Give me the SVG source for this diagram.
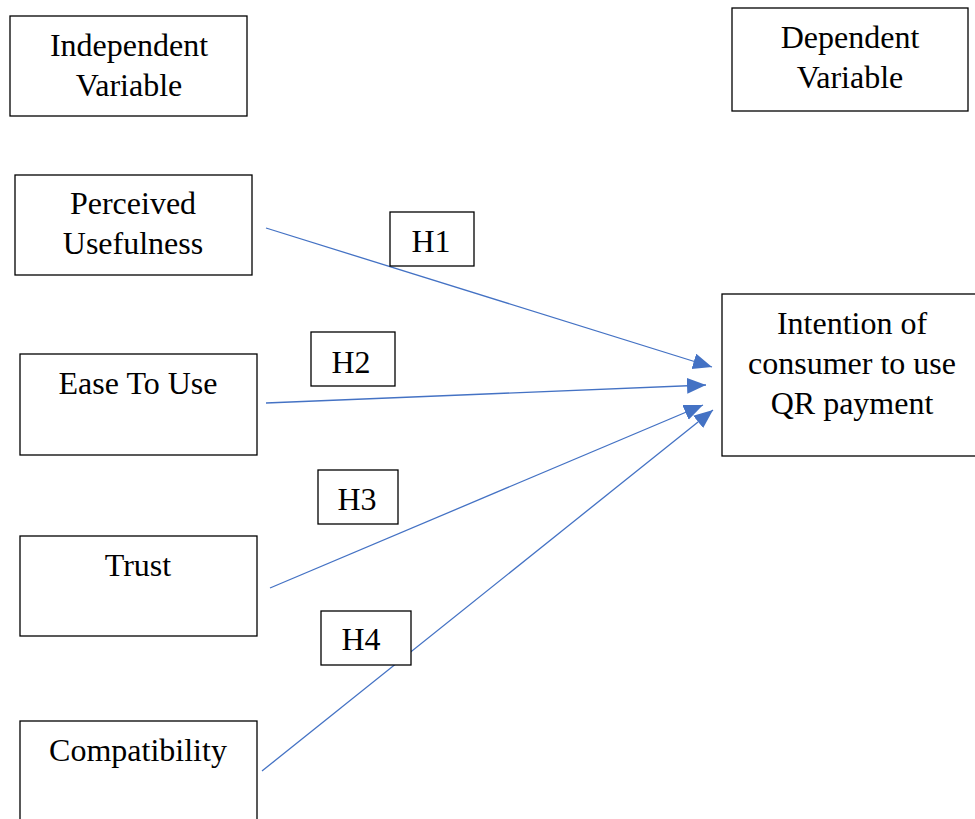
<svg xmlns="http://www.w3.org/2000/svg" width="975" height="819" viewBox="0 0 975 819">
<style>
.box{fill:#fff;stroke:#000;stroke-width:1.3}
.t{font-family:"Liberation Serif","Times New Roman",serif;font-size:32px;fill:#000;text-anchor:middle}
.c{stroke:#4472C4;stroke-width:1.3;fill:none}
</style>
<defs>
<marker id="ah" markerUnits="userSpaceOnUse" markerWidth="22" markerHeight="18" refX="19" refY="8" orient="auto">
<path d="M0,0 L19,8 L0,16 z" fill="#4472C4"/>
</marker>
</defs>
<rect width="975" height="819" fill="#fff"/>
<g id="independent">
<rect class="box" x="10" y="16" width="237" height="100"/>
<text class="t" x="129" y="56">Independent</text>
<text class="t" x="129" y="96">Variable</text>
</g>
<g id="dependent">
<rect class="box" x="732" y="8" width="236" height="103"/>
<text class="t" x="850" y="48">Dependent</text>
<text class="t" x="850" y="88">Variable</text>
</g>
<g id="connectors">
<line class="c" x1="266" y1="228" x2="712" y2="367" marker-end="url(#ah)"/>
<line class="c" x1="266" y1="403" x2="706" y2="385" marker-end="url(#ah)"/>
<line class="c" x1="270" y1="588" x2="703" y2="405" marker-end="url(#ah)"/>
<line class="c" x1="262" y1="771" x2="713" y2="410" marker-end="url(#ah)"/>
</g>
<g id="pu">
<rect class="box" x="15" y="175" width="237" height="100"/>
<text class="t" x="133" y="214">Perceived</text>
<text class="t" x="133" y="254">Usefulness</text>
</g>
<g id="eou">
<rect class="box" x="20" y="354" width="237" height="101"/>
<text class="t" x="138" y="394">Ease To Use</text>
</g>
<g id="trust">
<rect class="box" x="20" y="536" width="237" height="100"/>
<text class="t" x="138" y="576">Trust</text>
</g>
<g id="compat">
<rect class="box" x="20" y="721" width="237" height="110"/>
<text class="t" x="138" y="761">Compatibility</text>
</g>
<g id="intention">
<rect class="box" x="722" y="294" width="265" height="162"/>
<text class="t" x="852" y="334">Intention of</text>
<text class="t" x="852" y="374">consumer to use</text>
<text class="t" x="852" y="414">QR payment</text>
</g>
<g id="h1">
<rect class="box" x="390" y="212" width="84" height="54"/>
<text class="t" x="431" y="252">H1</text>
</g>
<g id="h2">
<rect class="box" x="311" y="332" width="84" height="54"/>
<text class="t" x="351" y="373">H2</text>
</g>
<g id="h3">
<rect class="box" x="318" y="470" width="80" height="54"/>
<text class="t" x="357" y="510">H3</text>
</g>
<g id="h4">
<rect class="box" x="321" y="611" width="90" height="54"/>
<text class="t" x="361" y="650">H4</text>
</g>
</svg>
